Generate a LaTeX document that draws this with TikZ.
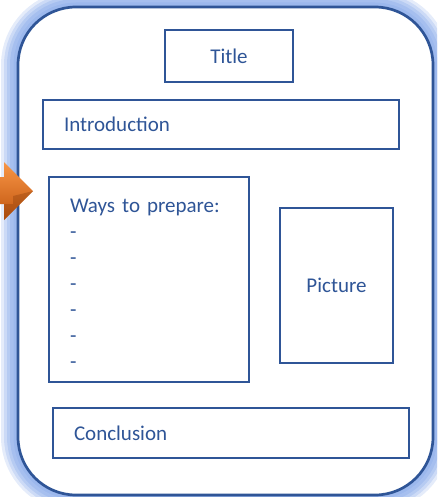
\documentclass[tikz,border=0pt]{standalone}
\usepackage{fontspec}
\setmainfont{Carlito}
\definecolor{dblue}{RGB}{47,85,151}
\definecolor{gblue}{RGB}{150,180,236}
\definecolor{lorange}{RGB}{248,150,70}
\definecolor{dorange}{RGB}{192,84,14}
\tikzset{pbox/.style={draw=dblue,line width=2.7pt,text=dblue,font=\fontsize{21}{26}\selectfont,inner sep=0pt},
	 lbox/.style={pbox,align=left,inner xsep=21pt},
	 frame/.style={draw=dblue,line width=2.7pt,rounded corners=58pt}
	 }

\begin{document}
\begin{tikzpicture}[x=1pt,y=-1pt] % lesson poster
	\clip (0,0) rectangle (437,497);
	\foreach \w/\o in {34/.25,28/.32,22/.4,16/.5,9/.65} {\draw[frame,draw=gblue,line width=\w pt,opacity=\o] (18,7) rectangle (433,495);}
	\draw[frame,fill=white] (18,7) rectangle (433,495);
	\node[pbox,minimum width=128pt,minimum height=52pt] (t) at (229,56) {Title};
	\node[lbox,text width=314pt,minimum height=49pt] (intro) at (221,124.5) {Introduction};
	\node[lbox,text width=158pt,minimum height=205pt] (ways) at (149,279.5) {\rule{0pt}{22pt}Ways to prepare:\\-\\-\\-\\-\\-\\-};
	\node[pbox,minimum width=113pt,minimum height=155pt] (pic) at (336.5,285.5) {Picture};
	\node[lbox,text width=314pt,minimum height=50pt] (concl) at (231,433) {Conclusion};
	\shade[top color=lorange,bottom color=dorange] (0,177) -- (4,177) -- (4,162) -- (33,191) -- (4,220) -- (4,204) -- (0,204) -- cycle;
	\fill[dorange!70!black,opacity=.35] (4,204) -- (4,220) -- (33,191) -- (13,196) -- (13,204) -- cycle;
     \end{tikzpicture}
\end{document}
